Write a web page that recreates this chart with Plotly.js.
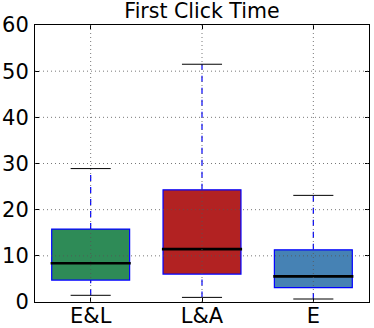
<!DOCTYPE html>
<html>
<head>
<meta charset="utf-8">
<script src="https://cdn.plot.ly/plotly-3.0.1.min.js"></script>
<style>
  body { margin: 0; background: #fff; }
  #plot { width: 374px; height: 328px; }
</style>
</head>
<body>
<div id="plot"></div>
<script>
// box stats
let groups = ['E&L', 'L&A', 'E'];
let lower = [1.45, 1.0, 0.65];
let q1 = [4.75, 6.05, 3.1];
let median = [8.4, 11.45, 5.55];
let q3 = [15.8, 24.3, 11.3];
let upper = [28.9, 51.5, 23.1];
let fills = ['#2e8b57', '#b22222', '#4682b4'];
let yTicks = [0, 10, 20, 30, 40, 50, 60];

let boxW = 0.7;
let capW = 0.36;

// one box trace per group, whiskers drawn as shapes below
let data = groups.map((g, i) => ({
    type: 'box',
    x: [g],
    q1: [q1[i]],
    median: [median[i]],
    q3: [q3[i]],
    lowerfence: [q1[i]],
    upperfence: [q3[i]],
    width: boxW,
    whiskerwidth: 0,
    fillcolor: fills[i],
    line: {color: '#0000ff', width: 1.2},
    hoverinfo: 'skip',
    showlegend: false,
}));

let shapes = [];

groups.forEach((g, i) => {
    // whiskers
    shapes.push({type: 'line', xref: 'x', yref: 'y', x0: i, x1: i, y0: q3[i], y1: upper[i],
        line: {color: '#0000ff', width: 1.2, dash: '6px,6px'}});
    shapes.push({type: 'line', xref: 'x', yref: 'y', x0: i, x1: i, y0: lower[i], y1: q1[i],
        line: {color: '#0000ff', width: 1.2, dash: '6px,6px'}});
    // caps
    [lower[i], upper[i]].forEach(v => {
        shapes.push({type: 'line', xref: 'x', yref: 'y', x0: i - capW / 2, x1: i + capW / 2, y0: v, y1: v,
            line: {color: '#000', width: 1}});
    });
    // median
    shapes.push({type: 'line', xref: 'x', yref: 'y', x0: i - boxW / 2 - 0.01, x1: i + boxW / 2 + 0.01,
        y0: median[i], y1: median[i], line: {color: '#000', width: 2.6}});
});

// dotted grid drawn on top, like the classic style
yTicks.slice(1, -1).forEach(v => {
    shapes.push({type: 'line', xref: 'paper', yref: 'y', x0: 0, x1: 1, y0: v, y1: v,
        line: {color: '#555', width: 0.8, dash: '1px,3px'}});
});
groups.forEach((g, i) => {
    shapes.push({type: 'line', xref: 'x', yref: 'paper', x0: i, x1: i, y0: 0, y1: 1,
        line: {color: '#555', width: 0.8, dash: '1px,3px'}});
});

let layout = {
    width: 374,
    height: 328,
    margin: {l: 35, r: 5, t: 25, b: 26},
    paper_bgcolor: '#fff',
    plot_bgcolor: '#fff',
    font: {family: 'DejaVu Sans', size: 21, color: '#000'},
    title: {
        text: 'First Click Time',
        font: {family: 'DejaVu Sans', size: 20.5, color: '#000'},
        x: 0.54, xanchor: 'center',
        y: 0.99, yanchor: 'top',
    },
    boxmode: 'overlay',
    showlegend: false,
    xaxis: {
        type: 'category',
        categoryarray: groups,
        range: [-0.5, 2.5],
        showgrid: false,
        zeroline: false,
        showline: true, linecolor: '#000', linewidth: 1, mirror: 'allticks',
        ticks: 'inside', ticklen: 4, tickcolor: '#000',
        tickfont: {size: 21},
        ticklabelstandoff: -5,
    },
    yaxis: {
        range: [0, 60],
        tickvals: yTicks,
        showgrid: false,
        zeroline: false,
        showline: true, linecolor: '#000', linewidth: 1, mirror: 'allticks',
        ticks: 'inside', ticklen: 4, tickcolor: '#000',
        tickfont: {size: 21},
        ticklabelstandoff: 1,
    },
    shapes: shapes,
};

Plotly.newPlot('plot', data, layout, {displayModeBar: false, staticPlot: true});
</script>
</body>
</html>
